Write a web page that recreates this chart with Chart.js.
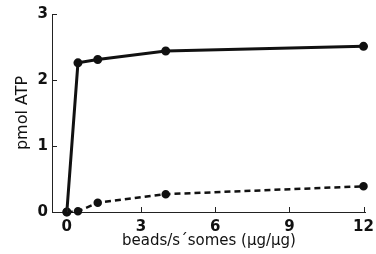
<!DOCTYPE html>
<html>
<head>
<meta charset="utf-8">
<script src="https://cdn.jsdelivr.net/npm/chart.js@4.4.0/dist/chart.umd.min.js"></script>
<style>
  html, body { margin: 0; padding: 0; background: #fff; }
  #wrap { width: 376px; height: 254px; }
</style>
</head>
<body>
<div id="wrap"><canvas id="c" width="376" height="254"></canvas></div>
<script>
// data
const ratios = [0, 0.45, 1.25, 4, 12];            // beads / s'somes (µg/µg)
const atpUpper = [0, 2.26, 2.31, 2.44, 2.51];     // solid line
const atpLower = [0, 0.01, 0.14, 0.27, 0.39];     // dashed line
const xTicks = [0, 3, 6, 9, 12];
const yTicks = [0, 1, 2, 3];

const toPoints = vals => ratios.map((x, i) => ({ x, y: vals[i] }));

// short tick marks pointing into the plot, like the original figure
const innerTicks = {
    id: 'innerTicks',
    afterDraw(chart) {
        const { ctx, scales: { x, y } } = chart;
        ctx.save();
        ctx.strokeStyle = '#222';
        ctx.lineWidth = 1;
        xTicks.forEach(v => {
            const px = Math.round(x.getPixelForValue(v)) + 0.5;
            ctx.beginPath();
            ctx.moveTo(px, y.bottom);
            ctx.lineTo(px, y.bottom - 5);
            ctx.stroke();
        });
        yTicks.forEach(v => {
            const py = Math.round(y.getPixelForValue(v)) + 0.5;
            ctx.beginPath();
            ctx.moveTo(x.left, py);
            ctx.lineTo(x.left + 5, py);
            ctx.stroke();
        });
        ctx.restore();
    }
};

const tickFont = { family: 'DejaVu Sans', size: 15, weight: 'bold' };
const titleFont = { family: 'DejaVu Sans', size: 15 };

new Chart(document.getElementById('c').getContext('2d'), {
    type: 'line',
    data: {
        datasets: [
            {
                data: toPoints(atpUpper),
                borderColor: '#111',
                backgroundColor: '#111',
                borderWidth: 3,
                pointRadius: 3,
                pointHoverRadius: 3,
                tension: 0
            },
            {
                data: toPoints(atpLower),
                borderColor: '#111',
                backgroundColor: '#111',
                borderWidth: 2.5,
                borderDash: [6, 4],
                pointRadius: 3,
                pointHoverRadius: 3,
                tension: 0
            }
        ]
    },
    options: {
        responsive: false,
        animation: false,
        clip: false,
        layout: { padding: { top: 14, right: 0, left: 13, bottom: 4 } },
        plugins: { legend: { display: false }, tooltip: { enabled: false } },
        scales: {
            x: {
                type: 'linear',
                min: -0.6,
                max: 12.1,
                afterBuildTicks: s => { s.ticks = xTicks.map(v => ({ value: v })); },
                afterFit: s => { s.height = 38; },
                grid: { display: false, drawTicks: false },
                border: { display: true, color: '#222', width: 1 },
                ticks: { color: '#111', padding: 2, maxRotation: 0, font: { ...tickFont, lineHeight: 1.8 } },
                title: {
                    display: true,
                    text: 'beads/s\u00b4somes (\u00b5g/\u00b5g)',
                    color: '#111',
                    padding: { top: 0, bottom: 0 },
                    font: titleFont
                }
            },
            y: {
                min: 0,
                max: 3,
                afterBuildTicks: s => { s.ticks = yTicks.map(v => ({ value: v })); },
                afterFit: s => { s.width = 39; },
                grid: { display: false, drawTicks: false },
                border: { display: true, color: '#222', width: 1 },
                ticks: { color: '#111', padding: 4, font: tickFont },
                title: {
                    display: true,
                    text: 'pmol ATP',
                    color: '#111',
                    padding: { top: 0, bottom: 0 },
                    font: { family: 'DejaVu Sans', size: 16 }
                }
            }
        }
    },
    plugins: [innerTicks]
});
</script>
</body>
</html>
